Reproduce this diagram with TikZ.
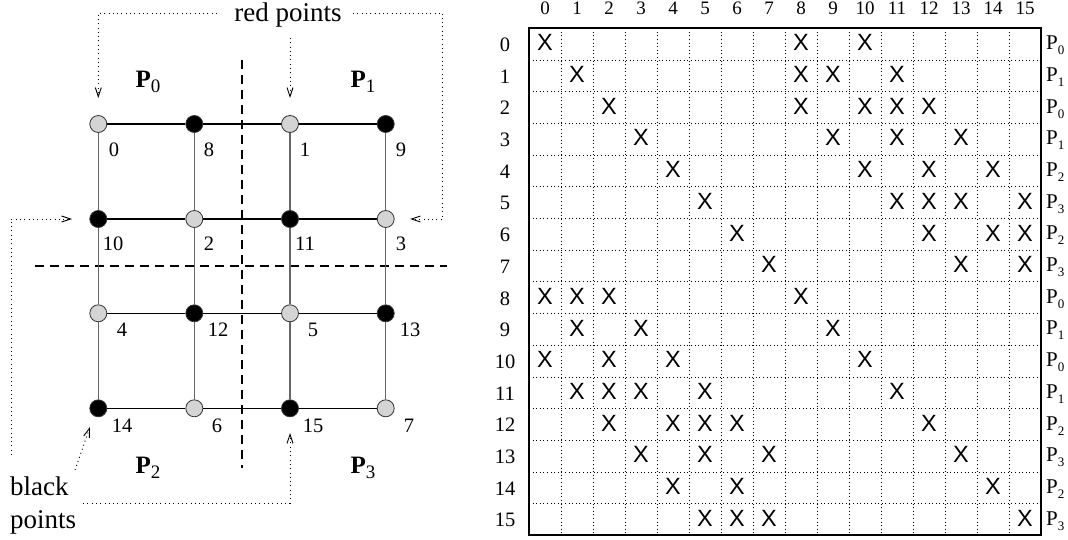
\documentclass[tikz,border=0pt]{standalone}
\usepackage{fontspec}
\setmainfont{Liberation Serif}
\newfontfamily\xfont{Liberation Sans}
\usetikzlibrary{arrows.meta}
\newcommand\Pbold[1]{{\fontsize{25}{25}\selectfont\bfseries P}\raisebox{-5pt}{\fontsize{19}{19}\selectfont #1}}
\newcommand\Preg[1]{{\fontsize{21}{21}\selectfont P}\raisebox{-5pt}{\fontsize{13}{13}\selectfont #1}}
\begin{document}
\begin{tikzpicture}[x=1pt,y=-1pt,
  gnode/.style={circle,draw=black!80,line width=0.8pt,minimum size=17pt,inner sep=0pt},
  rednode/.style={gnode,fill=black!17},
  blknode/.style={gnode,fill=black},
  hedge/.style={line width=1.2pt,black},
  vedge/.style={line width=1.2pt,black!60},
  cut/.style={line width=1.8pt,dash pattern=on 9pt off 6pt},
  conn/.style={line width=0.9pt,dash pattern=on 1pt off 3.3pt,-{Straight Barb[length=9pt,width=6pt,line width=0.9pt]}},
  num/.style={inner sep=0pt,font=\fontsize{20.5}{20.5}\selectfont},
  colnum/.style={inner sep=0pt,anchor=base,font=\fontsize{19}{19}\selectfont},
  xmark/.style={inner sep=0pt,font=\xfont\fontsize{23.5}{23.5}\selectfont},
  gridl/.style={line width=0.9pt,dash pattern=on 1pt off 2.6pt},
  big/.style={inner sep=0pt,font=\fontsize{27}{33}\selectfont}
]
\useasboundingbox (0,0) rectangle (1068,540);

% ---------- left: grid ----------
\draw[cut] (241.7,60) -- (241.7,468);
\draw[cut] (35,266) -- (447,266);

\node[rednode] (n0)  at (98.3,124) {};
\node[blknode] (n8)  at (194.3,124) {};
\node[rednode] (n1)  at (290,124) {};
\node[blknode] (n9)  at (385.7,124) {};
\node[blknode] (n10) at (98.3,219) {};
\node[rednode] (n2)  at (194.3,219) {};
\node[blknode] (n11) at (290,219) {};
\node[rednode] (n3)  at (385.7,219) {};
\node[rednode] (n4)  at (98.3,313.3) {};
\node[blknode] (n12) at (194.3,313.3) {};
\node[rednode] (n5)  at (290,313.3) {};
\node[blknode] (n13) at (385.7,313.3) {};
\node[blknode] (n14) at (98.3,408.3) {};
\node[rednode] (n6)  at (194.3,408.3) {};
\node[blknode] (n15) at (290,408.3) {};
\node[rednode] (n7)  at (385.7,408.3) {};

\draw[hedge] (n0) -- (n8) -- (n1) -- (n9);
\draw[hedge] (n10) -- (n2) -- (n11) -- (n3);
\draw[hedge] (n4) -- (n12) -- (n5) -- (n13);
\draw[hedge] (n14) -- (n6) -- (n15) -- (n7);
\draw[vedge] (n0) -- (n10) -- (n4) -- (n14);
\draw[vedge] (n8) -- (n2) -- (n12) -- (n6);
\draw[vedge] (n1) -- (n11) -- (n5) -- (n15);
\draw[vedge] (n9) -- (n3) -- (n13) -- (n7);

\node[num] (l0)  at (114,150) {0};
\node[num] (l8)  at (209,150) {8};
\node[num] (l1)  at (305,150) {1};
\node[num] (l9)  at (401,150) {9};
\node[num] (l10) at (113,244) {10};
\node[num] (l2)  at (209,244) {2};
\node[num] (l11) at (305,244) {11};
\node[num] (l3)  at (401,244) {3};
\node[num] (l4)  at (122,330) {4};
\node[num] (l12) at (218,330) {12};
\node[num] (l5)  at (313,330) {5};
\node[num] (l13) at (410,330) {13};
\node[num] (l14) at (122,426) {14};
\node[num] (l6)  at (217,426) {6};
\node[num] (l15) at (313,426) {15};
\node[num] (l7)  at (409,426) {7};

\node[inner sep=0pt] (p0) at (148,82) {\Pbold{0}};
\node[inner sep=0pt] (p1) at (363,82) {\Pbold{1}};
\node[inner sep=0pt] (p2) at (148,468) {\Pbold{2}};
\node[inner sep=0pt] (p3) at (363,468) {\Pbold{3}};

% ---------- annotations ----------
\node[big,anchor=base] (red) at (288,21.5) {red points};
\node[big,anchor=north west,align=left] (blk) at (10,477) {black\\points};

\coordinate (rl) at (217,13);
\coordinate (rr) at (353,13);
\coordinate (rm) at (290,38);
\coordinate (rc) at (442.7,13);
\coordinate (t0) at (98.3,98);
\coordinate (t1) at (290,98);
\coordinate (t3) at (410,219);
\draw[conn] (rl) -| (t0);
\draw[conn] (rm) -- (t1);
\draw[conn] (rr) -- (rc) |- (t3);

\coordinate (b4) at (11,455);
\coordinate (t10) at (72,219);
\coordinate (b5) at (75,470);
\coordinate (t14) at (90,427);
\coordinate (b6) at (83,503);
\coordinate (t15) at (290,433);
\draw[conn] (b4) |- (t10);
\draw[conn] (b5) -- (t14);
\draw[conn] (b6) -| (t15);

% ---------- right: matrix ----------
\foreach \i in {1,...,15} {
  \draw[gridl] ({529+32*\i},28.3) -- ({529+32*\i},535);
  \draw[gridl] (529,{28.3+31.7*\i}) -- (1040.7,{28.3+31.7*\i});
}
\draw[line width=1.6pt] (529,28.3) rectangle (1040.7,535);

\foreach \i in {0,...,15} {
  \node[colnum] (c\i) at ({529+32*\i+16},14.5) {\i};
  \node[num] (r\i) at (505,{28.3+31.7*\i+16.5}) {\i};
}

\foreach \r/\cols in {0/{0,8,10},1/{1,8,9,11},2/{2,8,10,11,12},3/{3,9,11,13},
  4/{4,10,12,14},5/{5,11,12,13,15},6/{6,12,14,15},7/{7,13,15},
  8/{0,1,2,8},9/{1,3,9},10/{0,2,4,10},11/{1,2,3,5,11},
  12/{2,4,5,6,12},13/{3,5,7,13},14/{4,6,14},15/{5,6,7,15}} {
  \foreach \c in \cols {
    \node[xmark] (x\r-\c) at ({529+32*\c+16},{28.3+31.7*\r+14.5}) {X};
  }
}

\foreach \r/\p in {0/0,1/1,2/0,3/1,4/2,5/3,6/2,7/3,8/0,9/1,10/0,11/1,12/2,13/3,14/2,15/3} {
  \node[inner sep=0pt,anchor=west] (q\r) at (1046,{28.3+31.7*\r+17}) {\Preg{\p}};
}
\end{tikzpicture}
\end{document}
